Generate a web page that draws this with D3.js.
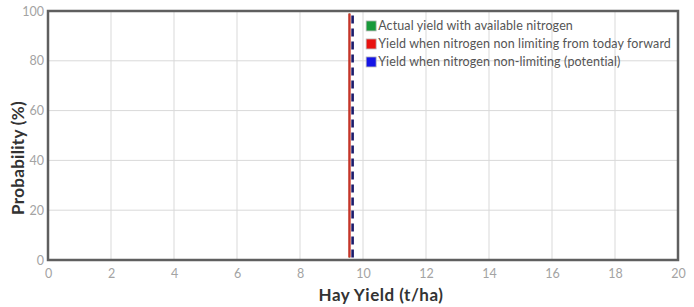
<!DOCTYPE html>
<html>
<head>
<meta charset="utf-8">
<script src="https://cdn.jsdelivr.net/npm/d3@7"></script>
<style>
  body { margin: 0; background: #fff; }
  svg { display: block; font-family: Lato, "Open Sans", sans-serif; }
</style>
</head>
<body>
<div id="chart"></div>
<script>
// probability levels (%) and yield (t/ha) for each series
const probability = [1, 99];
const actualYield = [9.57, 9.57];
const forwardYield = [9.57, 9.57];
const potentialYield = [9.67, 9.67];

const xTicks = [0, 2, 4, 6, 8, 10, 12, 14, 16, 18, 20];
const yTicks = [0, 20, 40, 60, 80, 100];

const legendNames = [
    'Actual yield with available nitrogen',
    'Yield when nitrogen non limiting from today forward',
    'Yield when nitrogen non-limiting (potential)'
];
const legendColors = ['#18993a', '#e8120f', '#1414e6'];

const width = 694, height = 307;
const margin = { top: 11, right: 16, bottom: 47, left: 48 };

const svg = d3.select('#chart').append('svg')
    .attr('width', width)
    .attr('height', height);

const x = d3.scaleLinear().domain([0, 20]).range([margin.left, width - margin.right]);
const y = d3.scaleLinear().domain([0, 100]).range([height - margin.bottom, margin.top]);

// grid
svg.append('g').selectAll('line')
    .data(xTicks)
    .enter().append('line')
    .attr('x1', d => x(d)).attr('x2', d => x(d))
    .attr('y1', y(0)).attr('y2', y(100))
    .attr('stroke', '#d9d9d9').attr('stroke-width', 1);

svg.append('g').selectAll('line')
    .data(yTicks)
    .enter().append('line')
    .attr('x1', x(0)).attr('x2', x(20))
    .attr('y1', d => y(d)).attr('y2', d => y(d))
    .attr('stroke', '#d9d9d9').attr('stroke-width', 1);

// axes (labels only, frame drawn below)
const xAxis = svg.append('g')
    .attr('transform', `translate(0,${y(0)})`)
    .call(d3.axisBottom(x).tickValues(xTicks).tickSize(0).tickPadding(9));
const yAxis = svg.append('g')
    .attr('transform', `translate(${x(0)},0)`)
    .call(d3.axisLeft(y).tickValues(yTicks).tickSize(0).tickPadding(4));

[xAxis, yAxis].forEach(g => {
    g.select('.domain').remove();
    g.selectAll('text')
        .attr('fill', '#a3a3a3')
        .style('font-size', '12.5px')
        .style('font-family', 'Lato, sans-serif');
});

// series lines
const line = d3.line()
    .x(d => x(d[0]))
    .y(d => y(d[1]));

const series = [
    { values: actualYield, color: '#18993a', width: 1.2, dash: null },
    { values: forwardYield, color: '#c8342a', width: 2.4, dash: null },
    { values: potentialYield, color: '#1b1b6b', width: 2.6, dash: '8,5' }
];

series.forEach(s => {
    svg.append('path')
        .datum(s.values.map((v, i) => [v, probability[i]]))
        .attr('d', line)
        .attr('fill', 'none')
        .attr('stroke', s.color)
        .attr('stroke-width', s.width)
        .attr('stroke-dasharray', s.dash);
});

// frame
svg.append('rect')
    .attr('x', x(0)).attr('y', y(100))
    .attr('width', x(20) - x(0)).attr('height', y(0) - y(100))
    .attr('fill', 'none')
    .attr('stroke', '#5f5f5f')
    .attr('stroke-width', 2.5);

// legend
const legend = svg.append('g')
    .attr('transform', `translate(${x(10.1)},${y(96)})`);

const items = legend.selectAll('g')
    .data(legendNames)
    .enter().append('g')
    .attr('transform', (d, i) => `translate(0,${i * 18})`);

items.append('rect')
    .attr('width', 10).attr('height', 10)
    .attr('fill', (d, i) => legendColors[i])
    .attr('stroke', '#bbb').attr('stroke-width', 0.8);

items.append('text')
    .attr('x', 12).attr('y', 9.5)
    .attr('fill', '#555')
    .style('font-size', '12.5px')
    .style('letter-spacing', '0.12px')
    .text(d => d);

// axis titles
svg.append('text')
    .attr('x', 381).attr('y', 301)
    .attr('text-anchor', 'middle')
    .attr('fill', '#333')
    .style('font-size', '17px')
    .style('font-weight', 'bold')
    .style('letter-spacing', '0.5px')
    .text('Hay Yield (t/ha)');

svg.append('text')
    .attr('transform', 'translate(24,158) rotate(-90)')
    .attr('text-anchor', 'middle')
    .attr('fill', '#333')
    .style('font-size', '17px')
    .style('font-weight', 'bold')
    .style('letter-spacing', '0.3px')
    .text('Probability (%)');
</script>
</body>
</html>
